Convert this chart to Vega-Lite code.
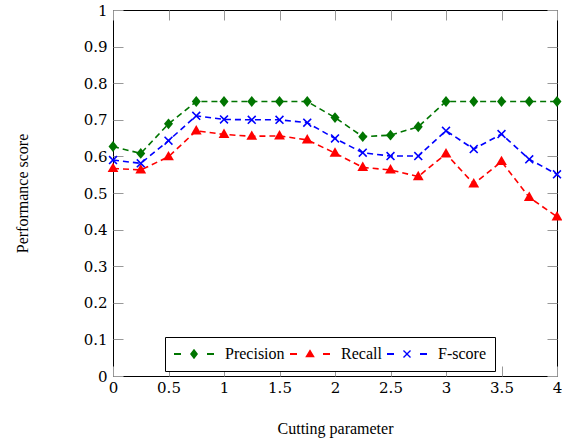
{
  "$schema": "https://vega.github.io/schema/vega-lite/v6.json",
  "width": 444,
  "height": 366,
  "autosize": {"type": "none"},
  "padding": {"left": 113, "top": 10, "right": 5, "bottom": 62},
  "config": {
    "view": {"stroke": "black", "strokeWidth": 1},
    "axis": {
      "labelFont": "DejaVu Serif",
      "labelFontSize": 15,
      "labelColor": "black",
      "titleFont": "Liberation Serif",
      "titleFontSize": 16,
      "titleFontWeight": "normal",
      "titleColor": "black",
      "tickColor": "#999999",
      "tickWidth": 1,
      "tickSize": -10,
      "grid": false,
      "domain": false
    },
    "legend": {
      "labelFont": "Liberation Serif",
      "labelFontSize": 16,
      "labelColor": "black"
    }
  },
  "data": {
    "values": [
      {"x": 0, "series": "Precision", "v": 0.627},
      {"x": 0.25, "series": "Precision", "v": 0.608},
      {"x": 0.5, "series": "Precision", "v": 0.689},
      {"x": 0.75, "series": "Precision", "v": 0.75},
      {"x": 1, "series": "Precision", "v": 0.75},
      {"x": 1.25, "series": "Precision", "v": 0.75},
      {"x": 1.5, "series": "Precision", "v": 0.75},
      {"x": 1.75, "series": "Precision", "v": 0.75},
      {"x": 2, "series": "Precision", "v": 0.706},
      {"x": 2.25, "series": "Precision", "v": 0.654},
      {"x": 2.5, "series": "Precision", "v": 0.658},
      {"x": 2.75, "series": "Precision", "v": 0.681},
      {"x": 3, "series": "Precision", "v": 0.75},
      {"x": 3.25, "series": "Precision", "v": 0.75},
      {"x": 3.5, "series": "Precision", "v": 0.75},
      {"x": 3.75, "series": "Precision", "v": 0.75},
      {"x": 4, "series": "Precision", "v": 0.75},
      {"x": 0, "series": "Recall", "v": 0.567},
      {"x": 0.25, "series": "Recall", "v": 0.563},
      {"x": 0.5, "series": "Recall", "v": 0.599},
      {"x": 0.75, "series": "Recall", "v": 0.67},
      {"x": 1, "series": "Recall", "v": 0.66},
      {"x": 1.25, "series": "Recall", "v": 0.655},
      {"x": 1.5, "series": "Recall", "v": 0.656},
      {"x": 1.75, "series": "Recall", "v": 0.645},
      {"x": 2, "series": "Recall", "v": 0.609},
      {"x": 2.25, "series": "Recall", "v": 0.57},
      {"x": 2.5, "series": "Recall", "v": 0.563},
      {"x": 2.75, "series": "Recall", "v": 0.545},
      {"x": 3, "series": "Recall", "v": 0.607},
      {"x": 3.25, "series": "Recall", "v": 0.525},
      {"x": 3.5, "series": "Recall", "v": 0.586},
      {"x": 3.75, "series": "Recall", "v": 0.488},
      {"x": 4, "series": "Recall", "v": 0.435},
      {"x": 0, "series": "F-score", "v": 0.59},
      {"x": 0.25, "series": "F-score", "v": 0.581},
      {"x": 0.5, "series": "F-score", "v": 0.643},
      {"x": 0.75, "series": "F-score", "v": 0.711},
      {"x": 1, "series": "F-score", "v": 0.701},
      {"x": 1.25, "series": "F-score", "v": 0.7},
      {"x": 1.5, "series": "F-score", "v": 0.7},
      {"x": 1.75, "series": "F-score", "v": 0.692},
      {"x": 2, "series": "F-score", "v": 0.649},
      {"x": 2.25, "series": "F-score", "v": 0.61},
      {"x": 2.5, "series": "F-score", "v": 0.601},
      {"x": 2.75, "series": "F-score", "v": 0.601},
      {"x": 3, "series": "F-score", "v": 0.67},
      {"x": 3.25, "series": "F-score", "v": 0.62},
      {"x": 3.5, "series": "F-score", "v": 0.661},
      {"x": 3.75, "series": "F-score", "v": 0.592},
      {"x": 4, "series": "F-score", "v": 0.551}
    ]
  },
  "layer": [
    {
      "mark": {"type": "line", "strokeDash": [6, 4], "strokeWidth": 1.6},
      "encoding": {
        "x": {
          "field": "x", "type": "quantitative",
          "scale": {"domain": [0, 4], "nice": false, "zero": false},
          "axis": {
            "orient": "bottom",
            "values": [0, 0.5, 1, 1.5, 2, 2.5, 3, 3.5, 4],
            "format": "~g",
            "labelPadding": 14,
            "labelFlush": false,
            "title": "Cutting parameter",
            "titleX": 222,
            "titleY": 52,
            "titleBaseline": "middle",
            "titleAlign": "center"
          }
        },
        "y": {
          "field": "v", "type": "quantitative",
          "scale": {"domain": [0, 1], "nice": false, "zero": false},
          "axis": {
            "orient": "left",
            "values": [0, 0.1, 0.2, 0.3, 0.4, 0.5, 0.6, 0.7, 0.8, 0.9, 1],
            "format": "~g",
            "labelPadding": 16,
            "labelFlush": false,
            "title": "Performance score",
            "titleAngle": -90,
            "titleX": -91,
            "titleY": 183,
            "titleBaseline": "middle",
            "titleAlign": "center"
          }
        },
        "color": {
          "field": "series", "type": "nominal",
          "scale": {"domain": ["Precision", "Recall", "F-score"], "range": ["#007500", "#ff0000", "#0000ff"]},
          "legend": {
            "orient": "none",
            "direction": "horizontal",
            "columns": 3,
            "legendX": 52,
            "legendY": 327,
            "title": null,
            "padding": 9,
            "strokeColor": "black",
            "fillColor": "white",
            "symbolSize": 256,
            "symbolOffset": 12,
            "labelOffset": 23,
            "columnPadding": 5,
            "symbolStrokeWidth": 0,
            "encode": {
              "symbols": {
                "update": {
                  "fill": {"scale": "color", "field": "value"},
                  "stroke": {"value": "transparent"},
                  "strokeWidth": {"value": 0},
                  "strokeDash": {"value": []},
                  "opacity": {"value": 1},
                  "shape": {"signal": "datum.value === 'Precision' ? 'M-2.5,-0.11L-1.625,-0.11L-1.625,0.11L-2.5,0.11Z M0,-0.65L0.5,0L0,0.65L-0.5,0Z M1.625,-0.11L2.5,-0.11L2.5,0.11L1.625,0.11Z' : datum.value === 'Recall' ? 'M-2.5,-0.11L-1.625,-0.11L-1.625,0.11L-2.5,0.11Z M0,-0.6L0.6,0.42L-0.6,0.42Z M1.625,-0.11L2.5,-0.11L2.5,0.11L1.625,0.11Z' : 'M-2.5,-0.11L-1.625,-0.11L-1.625,0.11L-2.5,0.11Z M-0.5,-0.38L-0.38,-0.5L0,-0.12L0.38,-0.5L0.5,-0.38L0.12,0L0.5,0.38L0.38,0.5L0,0.12L-0.38,0.5L-0.5,0.38L-0.12,0Z M1.625,-0.11L2.5,-0.11L2.5,0.11L1.625,0.11Z'"}
                }
              }
            }
          }
        }
      }
    },
    {
      "transform": [{"filter": "datum.series === 'Precision'"}],
      "mark": {"type": "point", "filled": true, "opacity": 1, "size": 81, "strokeWidth": 0, "shape": "M0,-1.2L1,0L0,1.2L-1,0Z"},
      "encoding": {
        "x": {
          "field": "x", "type": "quantitative",
          "axis": {"orient": "top", "values": [0, 0.5, 1, 1.5, 2, 2.5, 3, 3.5, 4], "labels": false, "title": null}
        },
        "y": {
          "field": "v", "type": "quantitative",
          "axis": {"orient": "right", "values": [0, 0.1, 0.2, 0.3, 0.4, 0.5, 0.6, 0.7, 0.8, 0.9, 1], "labels": false, "title": null}
        },
        "color": {"field": "series", "type": "nominal"}
      }
    },
    {
      "transform": [{"filter": "datum.series === 'Recall'"}],
      "mark": {"type": "point", "filled": true, "opacity": 1, "size": 81, "strokeWidth": 0, "shape": "M0,-1.3L1.2,0.8L-1.2,0.8Z"},
      "encoding": {
        "x": {"field": "x", "type": "quantitative", "axis": null},
        "y": {"field": "v", "type": "quantitative", "axis": null},
        "color": {"field": "series", "type": "nominal"}
      }
    },
    {
      "transform": [{"filter": "datum.series === 'F-score'"}],
      "mark": {"type": "point", "filled": true, "opacity": 1, "size": 81, "strokeWidth": 0, "shape": "M-1,-0.75L-0.75,-1L0,-0.25L0.75,-1L1,-0.75L0.25,0L1,0.75L0.75,1L0,0.25L-0.75,1L-1,0.75L-0.25,0Z"},
      "encoding": {
        "x": {"field": "x", "type": "quantitative", "axis": null},
        "y": {"field": "v", "type": "quantitative", "axis": null},
        "color": {"field": "series", "type": "nominal"}
      }
    }
  ],
  "resolve": {"axis": {"x": "independent", "y": "independent"}}
}
